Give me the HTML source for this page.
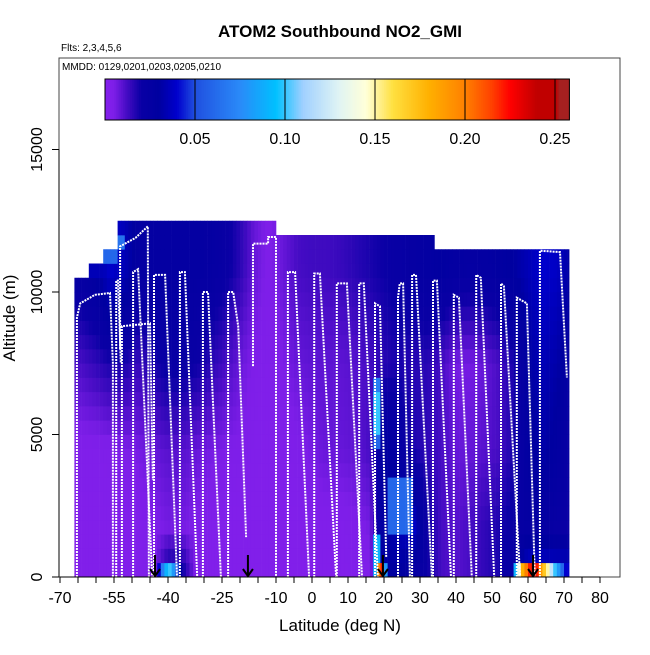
<!DOCTYPE html>
<html><head><meta charset="utf-8"><style>
html,body{margin:0;padding:0;background:#fff}
svg text{font-family:"Liberation Sans",sans-serif}
</style></head><body>
<svg id="chart" width="650" height="650" viewBox="0 0 650 650" xmlns="http://www.w3.org/2000/svg">
<text x="340" y="37" text-anchor="middle" font-size="17" font-weight="bold">ATOM2 Southbound NO2_GMI</text>
<text x="61" y="51" font-size="10">Flts: 2,3,4,5,6</text>
<g id="cells"></g>
<g id="tracks"></g>
<g id="arrows"></g>
<rect x="59" y="58" width="561" height="519" fill="none" stroke="#444" stroke-width="1"/>
<text x="62" y="70" font-size="10">MMDD: 0129,0201,0203,0205,0210</text>
<g id="cbar"></g>
<g id="xaxis"></g>
<g id="yaxis"></g>
<text x="340" y="631" text-anchor="middle" font-size="17">Latitude (deg N)</text>
<text transform="translate(15,318) rotate(-90)" text-anchor="middle" font-size="17">Altitude (m)</text>
</svg>
<script>
const binStarts=[-66,-62,-58,-54,-50,-46,-42,-38,-34,-30,-26,-22,-18,-14,-10,-6,-2,2,6,10,14,18,22,26,30,34,38,42,46,50,54,58,62,66,70];
const binTops=[10500,11000,11500,12500,12500,12500,12500,12500,12500,12500,12500,12500,12500,12500,12000,12000,12000,12000,12000,12000,12000,12000,12000,12000,12000,11500,11500,11500,11500,11500,11500,11500,11500,11500,11500];
const surfVals=[.002,.002,.002,.002,.003,.004,.02,.02,.003,.002,.002,.002,.002,.002,.002,.002,.002,.002,.002,.003,.004,.03,.03,.025,.02,.012,.01,.012,.015,.018,.025,.04,.04,.04,.04];
const lowVals=[.002,.002,.002,.002,.003,.004,.006,.006,.004,.003,.002,.002,.002,.002,.002,.002,.003,.003,.003,.004,.006,.03,.035,.04,.02,.012,.01,.012,.015,.018,.022,.025,.025,.022,.02];
const midVals=[.003,.003,.004,.005,.006,.008,.01,.01,.008,.006,.005,.004,.003,.002,.003,.004,.006,.008,.008,.009,.012,.03,.025,.018,.015,.012,.008,.008,.01,.012,.018,.028,.032,.028,.022];
const upperVals=[.012,.015,.018,.018,.014,.018,.022,.022,.02,.016,.012,.008,.004,.003,.005,.008,.009,.009,.009,.01,.012,.016,.018,.016,.016,.012,.006,.006,.008,.012,.018,.03,.035,.032,.025];
const highVals=[.026,.03,.04,.035,.026,.026,.026,.026,.026,.025,.022,.016,.008,.004,.008,.012,.013,.013,.014,.016,.018,.02,.022,.024,.026,.028,.026,.025,.026,.028,.03,.035,.04,.038,.03];
const levelAlts=[250,1750,4500,7500,10800];
// plume overrides: [latStart, latEnd, altStart, altEnd, value]
const plumes=[[-43,-42,0,500,.04],[-42,-41,0,500,.07],[-41,-40,0,500,.09],[-40,-39,0,500,.1],[-39,-38,0,500,.08],[-38,-37,0,500,.05],[-37,-36,0,500,.03],
[17,18,0,500,.09],[18,19,0,500,.2],[19,20,0,500,.22],[20,21,0,500,.08],[17,19,500,1500,.09],[17,19,5000,6500,.1],[17,19,6500,7000,.07],[17,19,4500,5000,.06],
[21,28,1500,3500,.06],
[56,57,0,500,.09],[57,58,0,500,.14],[58,59,0,500,.18],[59,60,0,500,.2],[60,61,0,500,.22],[61,62,0,500,.24],[62,63,0,500,.22],[63,64,0,500,.19],[64,65,0,500,.17],[65,66,0,500,.15],[66,67,0,500,.12],[67,68,0,500,.1],[68,69,0,500,.08],[69,70,0,500,.06],[70,71,0,500,.04],
[-62,-58,10500,11000,.035],[-58,-54,11000,11500,.06],[-54,-52,11500,12000,.065]];
const tracks=[
[[-65.3,0],[-65.3,9100],[-64.4,9600],[-60.3,9900],[-56.1,9965],[-55.3,7500],[-55.3,0]],
[[-54.4,0],[-54.4,10400],[-53.9,10400],[-53.1,7500]],
[[-53.3,8000],[-53.3,11600],[-49,11900],[-45.6,12300],[-45.3,0]],
[[-52.8,0],[-52.8,8800],[-45,8900],[-44.2,3400]],
[[-49.7,0],[-49.7,10700],[-48.3,10800],[-44.4,0]],
[[-43.9,0],[-43.9,10600],[-40.8,10600],[-37.5,0]],
[[-36.7,0],[-36.7,10700],[-35.3,10700],[-31.9,0]],
[[-30.3,0],[-30.3,10000],[-28.9,10000],[-25.3,0]],
[[-23.3,0],[-23.3,10000],[-21.9,10000],[-20.5,8800],[-18.3,1400]],
[[-16.4,7400],[-16.4,11700],[-12.2,11700],[-12.2,11930],[-10,11930],[-10,0]],
[[-6.7,0],[-6.7,10700],[-4.7,10700],[-0.8,0]],
[[0.6,0],[0.6,10650],[2.2,10650],[6.7,0]],
[[6.9,0],[6.9,10300],[9.7,10300],[13.9,0]],
[[13.1,0],[13.1,10300],[14.4,10300],[18.3,0]],
[[17.5,0],[17.5,9600],[18.9,9500],[20.6,700]],
[[23.9,0],[23.9,9800],[24.4,10300],[25.3,10300],[27.2,0]],
[[27.8,0],[27.8,10600],[28.9,10600],[33.3,0]],
[[33.6,0],[33.6,10400],[34.7,10400],[38.6,0]],
[[39.4,0],[39.4,9900],[40.8,9800],[44.4,0]],
[[45.6,0],[45.6,10600],[46.9,10500],[50.6,0]],
[[52.5,0],[52.5,10300],[53.3,10200],[57.8,0]],
[[56.9,0],[56.9,9800],[59.7,9600],[61.9,0]],
[[63.3,0],[63.3,11450],[68.9,11400],[70.8,7000]]];
const arrowLats=[-43.6,-17.8,19.7,61.4];
const xTicks=[-70,-55,-40,-25,-10,0,10,20,30,40,50,60,70,80];
const yTicks=[0,5000,10000,15000];
const cbTicks=[0.05,0.10,0.15,0.20,0.25];

const NS='http://www.w3.org/2000/svg';
const xs=l=>312+(l)*3.6;
const ys=a=>577-a*0.0285;
const cbx=v=>105+v*1800;
const stops=[[0,[132,32,236]],[.005,[125,30,232]],[.012,[70,12,196]],[.02,[10,0,165]],[.03,[0,0,160]],[.04,[0,0,205]],[.05,[32,80,224]],[.075,[42,138,248]],[.095,[0,192,255]],[.11,[160,208,255]],[.13,[224,244,244]],[.145,[255,255,216]],[.16,[255,224,64]],[.18,[255,176,0]],[.2,[255,128,0]],[.215,[255,64,0]],[.225,[255,0,0]],[.24,[192,0,0]],[.251,[192,0,0]],[.252,[165,32,32]],[.3,[165,32,32]]];
function col(v){
  if(v<=0)v=0;
  for(let i=1;i<stops.length;i++){if(v<=stops[i][0]){const a=stops[i-1],b=stops[i];const t=(v-a[0])/(b[0]-a[0]);const c=a[1].map((x,k)=>Math.round(x+(b[1][k]-x)*t));return `rgb(${c[0]},${c[1]},${c[2]})`;}}
  return 'rgb(165,32,32)';
}
function mk(tag,attrs,parent){const e=document.createElementNS(NS,tag);for(const k in attrs)e.setAttribute(k,attrs[k]);parent.appendChild(e);return e;}
function interp(xsA,ysA,x){if(x<=xsA[0])return ysA[0];for(let i=1;i<xsA.length;i++){if(x<=xsA[i]){const t=(x-xsA[i-1])/(xsA[i]-xsA[i-1]);return ysA[i-1]+(ysA[i]-ysA[i-1])*t;}}return ysA[ysA.length-1];}
const cells=document.getElementById('cells');
const centers=binStarts.map(b=>b+2);
for(let lat=-66;lat<71.5;lat+=1){
  const bi=Math.min(binStarts.length-1,Math.floor((lat+66)/4));
  const top=binTops[bi];
  const c=lat+0.5;
  const lv=[surfVals,lowVals,midVals,upperVals,highVals].map(arr=>interp(centers,arr,c));
  for(let r=0;r*500<top;r++){
    const a0=r*500,a1=a0+500;
    let v=(r===0)?lv[0]:interp(levelAlts,lv,a0+250);
    for(const p of plumes){if(lat>=p[0]&&lat<p[1]&&a0>=p[2]&&a1<=p[3])v=p[4];}
    const w=(lat>=71)?1.8:3.9;
    const e=mk('rect',{x:xs(lat).toFixed(2),y:ys(a1).toFixed(2),width:w,height:14.6,fill:col(v)},cells);
    
    
  }
}
const tg=document.getElementById('tracks');
tracks.forEach(t=>{
  const pts=t.map(p=>xs(p[0]).toFixed(1)+','+ys(p[1]).toFixed(1)).join(' ');
  const e=mk('polyline',{points:pts,fill:'none',stroke:'#fff','stroke-width':2,'stroke-dasharray':'2 1'},tg);
  
  
});
const ag=document.getElementById('arrows');
arrowLats.forEach(l=>{
  const x=xs(l);
  const e=mk('path',{d:`M${x},555 L${x},576 M${x-5},569 L${x},576 L${x+5},569`,stroke:'#000','stroke-width':2,fill:'none'},ag);
  
  
});
// colorbar
const cb=document.getElementById('cbar');
for(let v=0;v<0.258;v+=0.001){
  const e=mk('rect',{x:cbx(v).toFixed(2),y:79,width:2.2,height:41,fill:col(v+0.0005)},cb);
  
  
}
mk('rect',{x:105,y:79,width:cbx(0.258)-105,height:41,fill:'none',stroke:'#000','stroke-width':1},cb);
cbTicks.forEach(v=>{
  const x=cbx(v);
  mk('line',{x1:x,x2:x,y1:79,y2:120,stroke:'#000','stroke-width':1},cb);
  const t=mk('text',{x:x,y:144,'text-anchor':'middle','font-size':16},cb);
  t.textContent=v.toFixed(2);
  
  
});
// axes
const xg=document.getElementById('xaxis');
mk('line',{x1:xs(-70),x2:xs(80),y1:577,y2:577,stroke:'#000'},xg);
for(let l=-70;l<=80;l+=5){mk('line',{x1:xs(l),x2:xs(l),y1:577,y2:583,stroke:'#000'},xg);}
xTicks.forEach(l=>{
  const t=mk('text',{x:xs(l),y:603,'text-anchor':'middle','font-size':16},xg);
  t.textContent=l;
  
  
});
const yg=document.getElementById('yaxis');
mk('line',{x1:59,x2:59,y1:ys(0),y2:ys(15000),stroke:'#000'},yg);
yTicks.forEach(a=>{
  mk('line',{x1:52,x2:59,y1:ys(a),y2:ys(a),stroke:'#000'},yg);
  const t=mk('text',{transform:`translate(42,${ys(a)}) rotate(-90)`,'text-anchor':'middle','font-size':16},yg);
  t.textContent=a;
  
  
});
</script>
</body></html>
